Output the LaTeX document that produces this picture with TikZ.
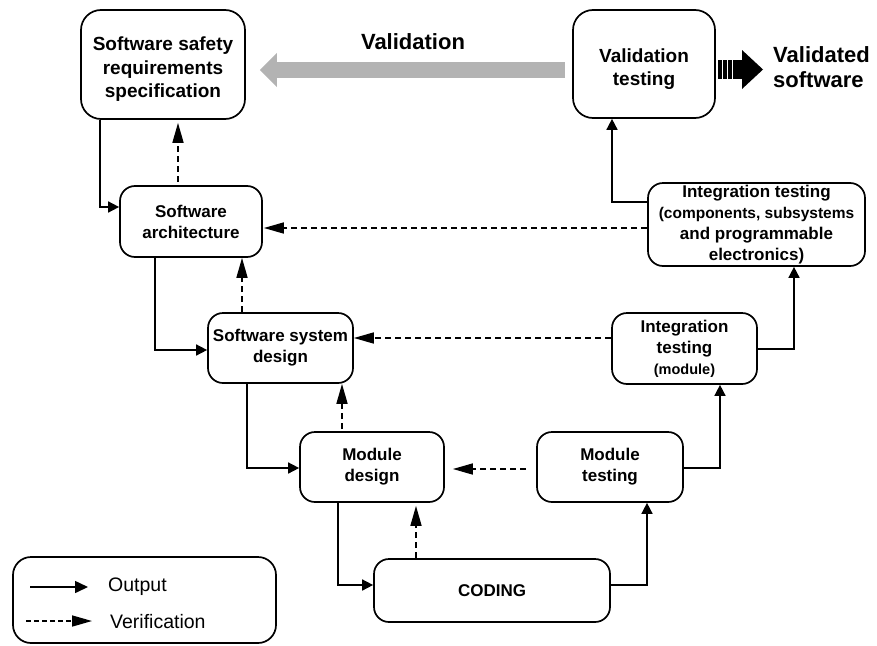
\documentclass[tikz,border=0pt]{standalone}
\usepackage{fontspec}
\setmainfont{Liberation Sans}
\usetikzlibrary{arrows.meta}
\definecolor{valgray}{HTML}{B3B3B3}
\begin{document}
\begin{tikzpicture}[x=1pt,y=-1pt,
  box/.style={draw, line width=1.7pt, rounded corners=15pt, align=center,
    inner sep=0pt, font=\bfseries\fontsize{17}{21}\selectfont},
  bigtext/.style={align=center, inner sep=0pt, font=\bfseries\fontsize{19}{23.5}\selectfont},
  outp/.style={line width=1.6pt, -{Triangle[length=11pt,width=11pt]}},
  verif/.style={line width=1.6pt, dash pattern=on 6pt off 4pt,
    -{Triangle[length=20pt,width=11pt]}},
  valid/.style={draw=valgray, line width=16pt,
    -{Triangle[length=17pt,width=33pt]}},
  lbl/.style={inner sep=0pt, font=\bfseries\fontsize{22}{25}\selectfont}]
\useasboundingbox (0,0) rectangle (877,645);

% process boxes
\node[box, rounded corners=20pt, minimum width=164, minimum height=109] (req) at (163,64.5) {};
\node[bigtext] (reqt) at ([yshift=-5pt]req.center) {Software safety\\requirements\\specification};
\node[box, rounded corners=20pt, minimum width=142, minimum height=108] (vt) at (644,64) {};
\node[bigtext] (vtt) at ([yshift=-5pt]vt.center) {Validation\\testing};
\node[box, minimum width=142, minimum height=71] (arch) at (191,221.5)
  {Software\\architecture};
\node[box, minimum width=217, minimum height=83] (itc) at (756.5,224.5)
  {Integration testing\\\fontsize{15.5}{19}\selectfont(components, subsystems\\and programmable\\electronics)};
\node[box, minimum width=145, minimum height=70] (ssd) at (280.5,348)
  {Software system\\design};
\node[box, minimum width=145, minimum height=71] (itm) at (684.5,348.5)
  {Integration\\testing\\\fontsize{14.5}{17}\selectfont(module)};
\node[box, minimum width=144, minimum height=70] (md) at (372,467)
  {Module\\design};
\node[box, minimum width=146, minimum height=70] (mt) at (610,467)
  {Module\\testing};
\node[box, minimum width=236, minimum height=63] (cod) at (492,590.5)
  {CODING};

% outputs
\draw[outp] (req.south -| 100,0) |- (arch.west |- 0,207);
\draw[outp] (arch.south -| 155,0) |- (ssd.west |- 0,350);
\draw[outp] (ssd.south -| 247,0) |- (md.west |- 0,468);
\draw[outp] (md.south -| 338,0) |- (cod.west |- 0,585);
\draw[outp] (cod.east |- 0,585) -| (mt.south -| 647,0);
\draw[outp] (mt.east |- 0,468) -| (itm.south -| 720,0);
\draw[outp] (itm.east |- 0,349) -| (itc.south -| 794,0);
\draw[outp] (itc.west |- 0,202) -| (vt.south -| 612,0);

% verifications
\draw[verif, shorten <=3pt, shorten >=3pt] (arch.north -| 178,0) -- (req.south -| 178,0);
\draw[verif, shorten >=1pt] (itc.west |- 0,228) -- (arch.east |- 0,228);
\draw[verif] (ssd.north -| 242,0) -- (arch.south -| 242,0);
\draw[verif] (itm.west |- 0,338) -- (ssd.east |- 0,338);
\draw[verif, shorten <=2pt] (md.north -| 342,0) -- (ssd.south -| 342,0);
\draw[verif, shorten <=10pt, shorten >=8pt] (mt.west |- 0,469) -- (md.east |- 0,469);
\draw[verif, shorten >=3pt] (cod.north -| 416,0) -- (md.south -| 416,0);

% validation
\draw[valid, shorten <=7pt, shorten >=14pt] (vt.west |- 0,70) -- (req.east |- 0,70);
\node[lbl, anchor=base] (vlab) at (413,49) {Validation};

% released product
\fill (718,60) rectangle (721.5,79);
\fill (723,60) rectangle (726.5,79);
\fill (728,60) rectangle (731.5,79);
\fill (733,60) rectangle (743,79);
\fill (742,50) -- (763,69.5) -- (742,89) -- cycle;
\node[lbl, align=left, anchor=west] (vsw) at (773,67) {Validated\\software};

% legend
\node[draw, line width=1.7pt, rounded corners=18pt, minimum width=263,
  minimum height=86, inner sep=0pt] (leg) at (144.5,600) {};
\coordinate (o1) at (30,587);
\coordinate (o2) at (88,587);
\coordinate (v1) at (26,621);
\coordinate (v2) at (92,621);
\draw[outp, -{Triangle[length=13pt,width=12pt]}] (o1) -- (o2);
\draw[verif, dash pattern=on 5pt off 3pt] (v1) -- (v2);
\node[anchor=west, inner sep=0pt, font=\fontsize{19.5}{23}\selectfont] (lo) at (108,587) {Output};
\node[anchor=west, inner sep=0pt, font=\fontsize{19.5}{23}\selectfont] (lv) at (110,622) {Verification};
\end{tikzpicture}
\end{document}
